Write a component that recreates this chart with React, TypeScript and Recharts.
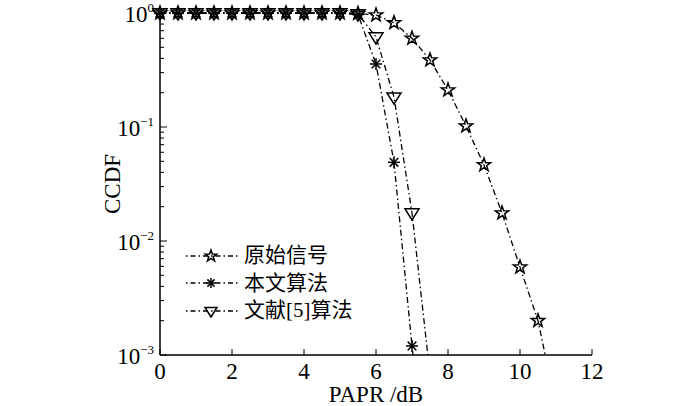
import { LineChart, Line, XAxis, YAxis, Legend } from "recharts";

// CCDF of PAPR for the three schemes
const originalX = [0, 0.5, 1, 1.5, 2, 2.5, 3, 3.5, 4, 4.5, 5, 5.5, 6, 6.5, 7, 7.5, 8, 8.5, 9, 9.5, 10, 10.5, 10.7];
const originalY = [1, 1, 1, 1, 1, 1, 1, 1, 1, 1, 1, 0.99, 0.96, 0.82, 0.6, 0.387, 0.211, 0.102, 0.0465, 0.0176, 0.0059, 0.002, 0.001];

const proposedX = [0, 0.5, 1, 1.5, 2, 2.5, 3, 3.5, 4, 4.5, 5, 5.5, 6, 6.5, 7, 7.03];
const proposedY = [1, 1, 1, 1, 1, 1, 1, 1, 1, 1, 1, 0.97, 0.357, 0.049, 0.0012, 0.001];

const refX = [0, 0.5, 1, 1.5, 2, 2.5, 3, 3.5, 4, 4.5, 5, 5.5, 6, 6.5, 7, 7.44];
const refY = [1, 1, 1, 1, 1, 1, 1, 1, 1, 1, 1, 0.98, 0.616, 0.183, 0.0176, 0.001];

const seriesNames = ["原始信号", "本文算法", "文献[5]算法"];
const xTicks = [0, 2, 4, 6, 8, 10, 12];
const yMajor = [1, 0.1, 0.01, 0.001];
const yExp = ["0", "−1", "−2", "−3"];
const yMinor = [2, 3, 4, 5, 6, 7, 8, 9].flatMap((m) => [m * 0.001, m * 0.01, m * 0.1]);

const zip = (xs: number[], ys: number[]) => xs.map((x, i) => ({ x, y: ys[i] }));
const original = zip(originalX, originalY);
const proposed = zip(proposedX, proposedY);
const reference = zip(refX, refY);

const SERIF = "Liberation Serif";
const CJK = "'Liberation Serif', 'Noto Sans CJK SC', serif";
const DASH = "6 3 1.5 3";

function StarMark({ cx, cy, r = 7 }: { cx: number; cy: number; r?: number }) {
  const pts: string[] = [];
  for (let i = 0; i < 10; i++) {
    const rad = i % 2 === 0 ? r : r * 0.4;
    const a = -Math.PI / 2 + (i * Math.PI) / 5;
    pts.push(`${cx + rad * Math.cos(a)},${cy + rad * Math.sin(a)}`);
  }
  return <polygon points={pts.join(" ")} fill="none" stroke="#000" strokeWidth={1.5} />;
}

function AsteriskMark({ cx, cy, r = 6 }: { cx: number; cy: number; r?: number }) {
  const d = r * 0.72;
  return (
    <g stroke="#000" strokeWidth={1.5}>
      <line x1={cx - r} y1={cy} x2={cx + r} y2={cy} />
      <line x1={cx} y1={cy - r} x2={cx} y2={cy + r} />
      <line x1={cx - d} y1={cy - d} x2={cx + d} y2={cy + d} />
      <line x1={cx - d} y1={cy + d} x2={cx + d} y2={cy - d} />
    </g>
  );
}

function TriangleMark({ cx, cy, r = 7 }: { cx: number; cy: number; r?: number }) {
  return (
    <polygon
      points={`${cx - r},${cy - r * 0.6} ${cx + r},${cy - r * 0.6} ${cx},${cy + r}`}
      fill="none"
      stroke="#000"
      strokeWidth={1.5}
    />
  );
}

const markers = [StarMark, AsteriskMark, TriangleMark];

// no marker on the point where the curve leaves through the bottom axis
const makeDot = (Mark: typeof StarMark) => (p: any) => {
  if (p.payload.y <= 0.001) return <g key={p.key ?? p.index} />;
  return (
    <g key={p.key ?? p.index}>
      <Mark cx={p.cx} cy={p.cy} />
    </g>
  );
};

function YTick({ x, y, payload }: any) {
  const i = yMajor.indexOf(payload.value);
  const major = i >= 0;
  return (
    <g>
      <line x1={x} y1={y} x2={x + (major ? 7 : 4)} y2={y} stroke="#000" strokeWidth={1} />
      {major && (
        <text x={x - 6} y={y + 9} textAnchor="end" style={{ fontFamily: SERIF }} fontSize={23} fill="#000">
          10
          <tspan dy={-10} fontSize={13}>
            {yExp[i]}
          </tspan>
        </text>
      )}
    </g>
  );
}

function XTick({ x, y, payload }: any) {
  return (
    <g>
      <line x1={x} y1={y} x2={x} y2={y - 6} stroke="#000" strokeWidth={1} />
      <text x={x} y={y + 24} textAnchor="middle" style={{ fontFamily: SERIF }} fontSize={23} fill="#000">
        {payload.value}
      </text>
    </g>
  );
}

function LegendBox() {
  return (
    <div style={{ fontFamily: CJK, fontSize: 21, color: "#000", lineHeight: "27.5px" }}>
      {seriesNames.map((name, i) => {
        const Mark = markers[i];
        return (
          <div key={name} style={{ display: "flex", alignItems: "center", height: 27.5 }}>
            <svg width={58} height={20} style={{ display: "block" }}>
              <line x1={2} y1={10} x2={56} y2={10} stroke="#000" strokeWidth={1.3} strokeDasharray="1.5 3 5 3" />
              <Mark cx={27} cy={10} r={i === 1 ? 5 : 6} />
            </svg>
            <span style={{ whiteSpace: "nowrap", marginLeft: 2 }}>{name}</span>
          </div>
        );
      })}
    </div>
  );
}

export default function App() {
  const series = [original, proposed, reference];
  return (
    <div style={{ position: "absolute", left: 0, top: 0, width: 700, height: 406, background: "#fff" }}>
      <LineChart width={700} height={406} margin={{ top: 13, right: 108, bottom: 0, left: 0 }}>
        <XAxis
          type="number"
          dataKey="x"
          domain={[0, 12]}
          ticks={xTicks}
          height={51}
          tickSize={0}
          tickMargin={0}
          tickLine={false}
          tick={<XTick />}
          axisLine={{ stroke: "#000", strokeWidth: 1.5 }}
          allowDuplicatedCategory={false}
          label={{ value: "PAPR /dB", position: "insideBottom", offset: 4, fontSize: 23, fill: "#000", fontFamily: SERIF }}
        />
        <YAxis
          type="number"
          dataKey="y"
          scale="log"
          domain={[0.001, 1]}
          ticks={[...yMajor, ...yMinor]}
          width={160}
          tickSize={0}
          tickMargin={0}
          tickLine={false}
          tick={<YTick />}
          interval={0}
          axisLine={{ stroke: "#000", strokeWidth: 1.5 }}
          label={{
            content: (p: any) => {
              const vb = p.viewBox;
              const cy = vb.y + vb.height / 2;
              return (
                <text
                  x={112}
                  y={cy}
                  transform={`rotate(-90 112 ${cy})`}
                  textAnchor="middle"
                  dominantBaseline="central"
                  style={{ fontFamily: SERIF }}
                  fontSize={23}
                  fill="#000"
                >
                  CCDF
                </text>
              );
            },
          }}
        />
        <Legend
          layout="vertical"
          verticalAlign="middle"
          align="center"
          content={() => <LegendBox />}
          wrapperStyle={{ left: 184, top: 242, width: 200 }}
        />
        {series.map((data, i) => (
          <Line
            key={seriesNames[i]}
            data={data}
            dataKey="y"
            name={seriesNames[i]}
            type="linear"
            stroke="#000"
            strokeWidth={1.3}
            strokeDasharray={DASH}
            dot={makeDot(markers[i])}
            activeDot={false}
            isAnimationActive={false}
          />
        ))}
      </LineChart>
    </div>
  );
}
